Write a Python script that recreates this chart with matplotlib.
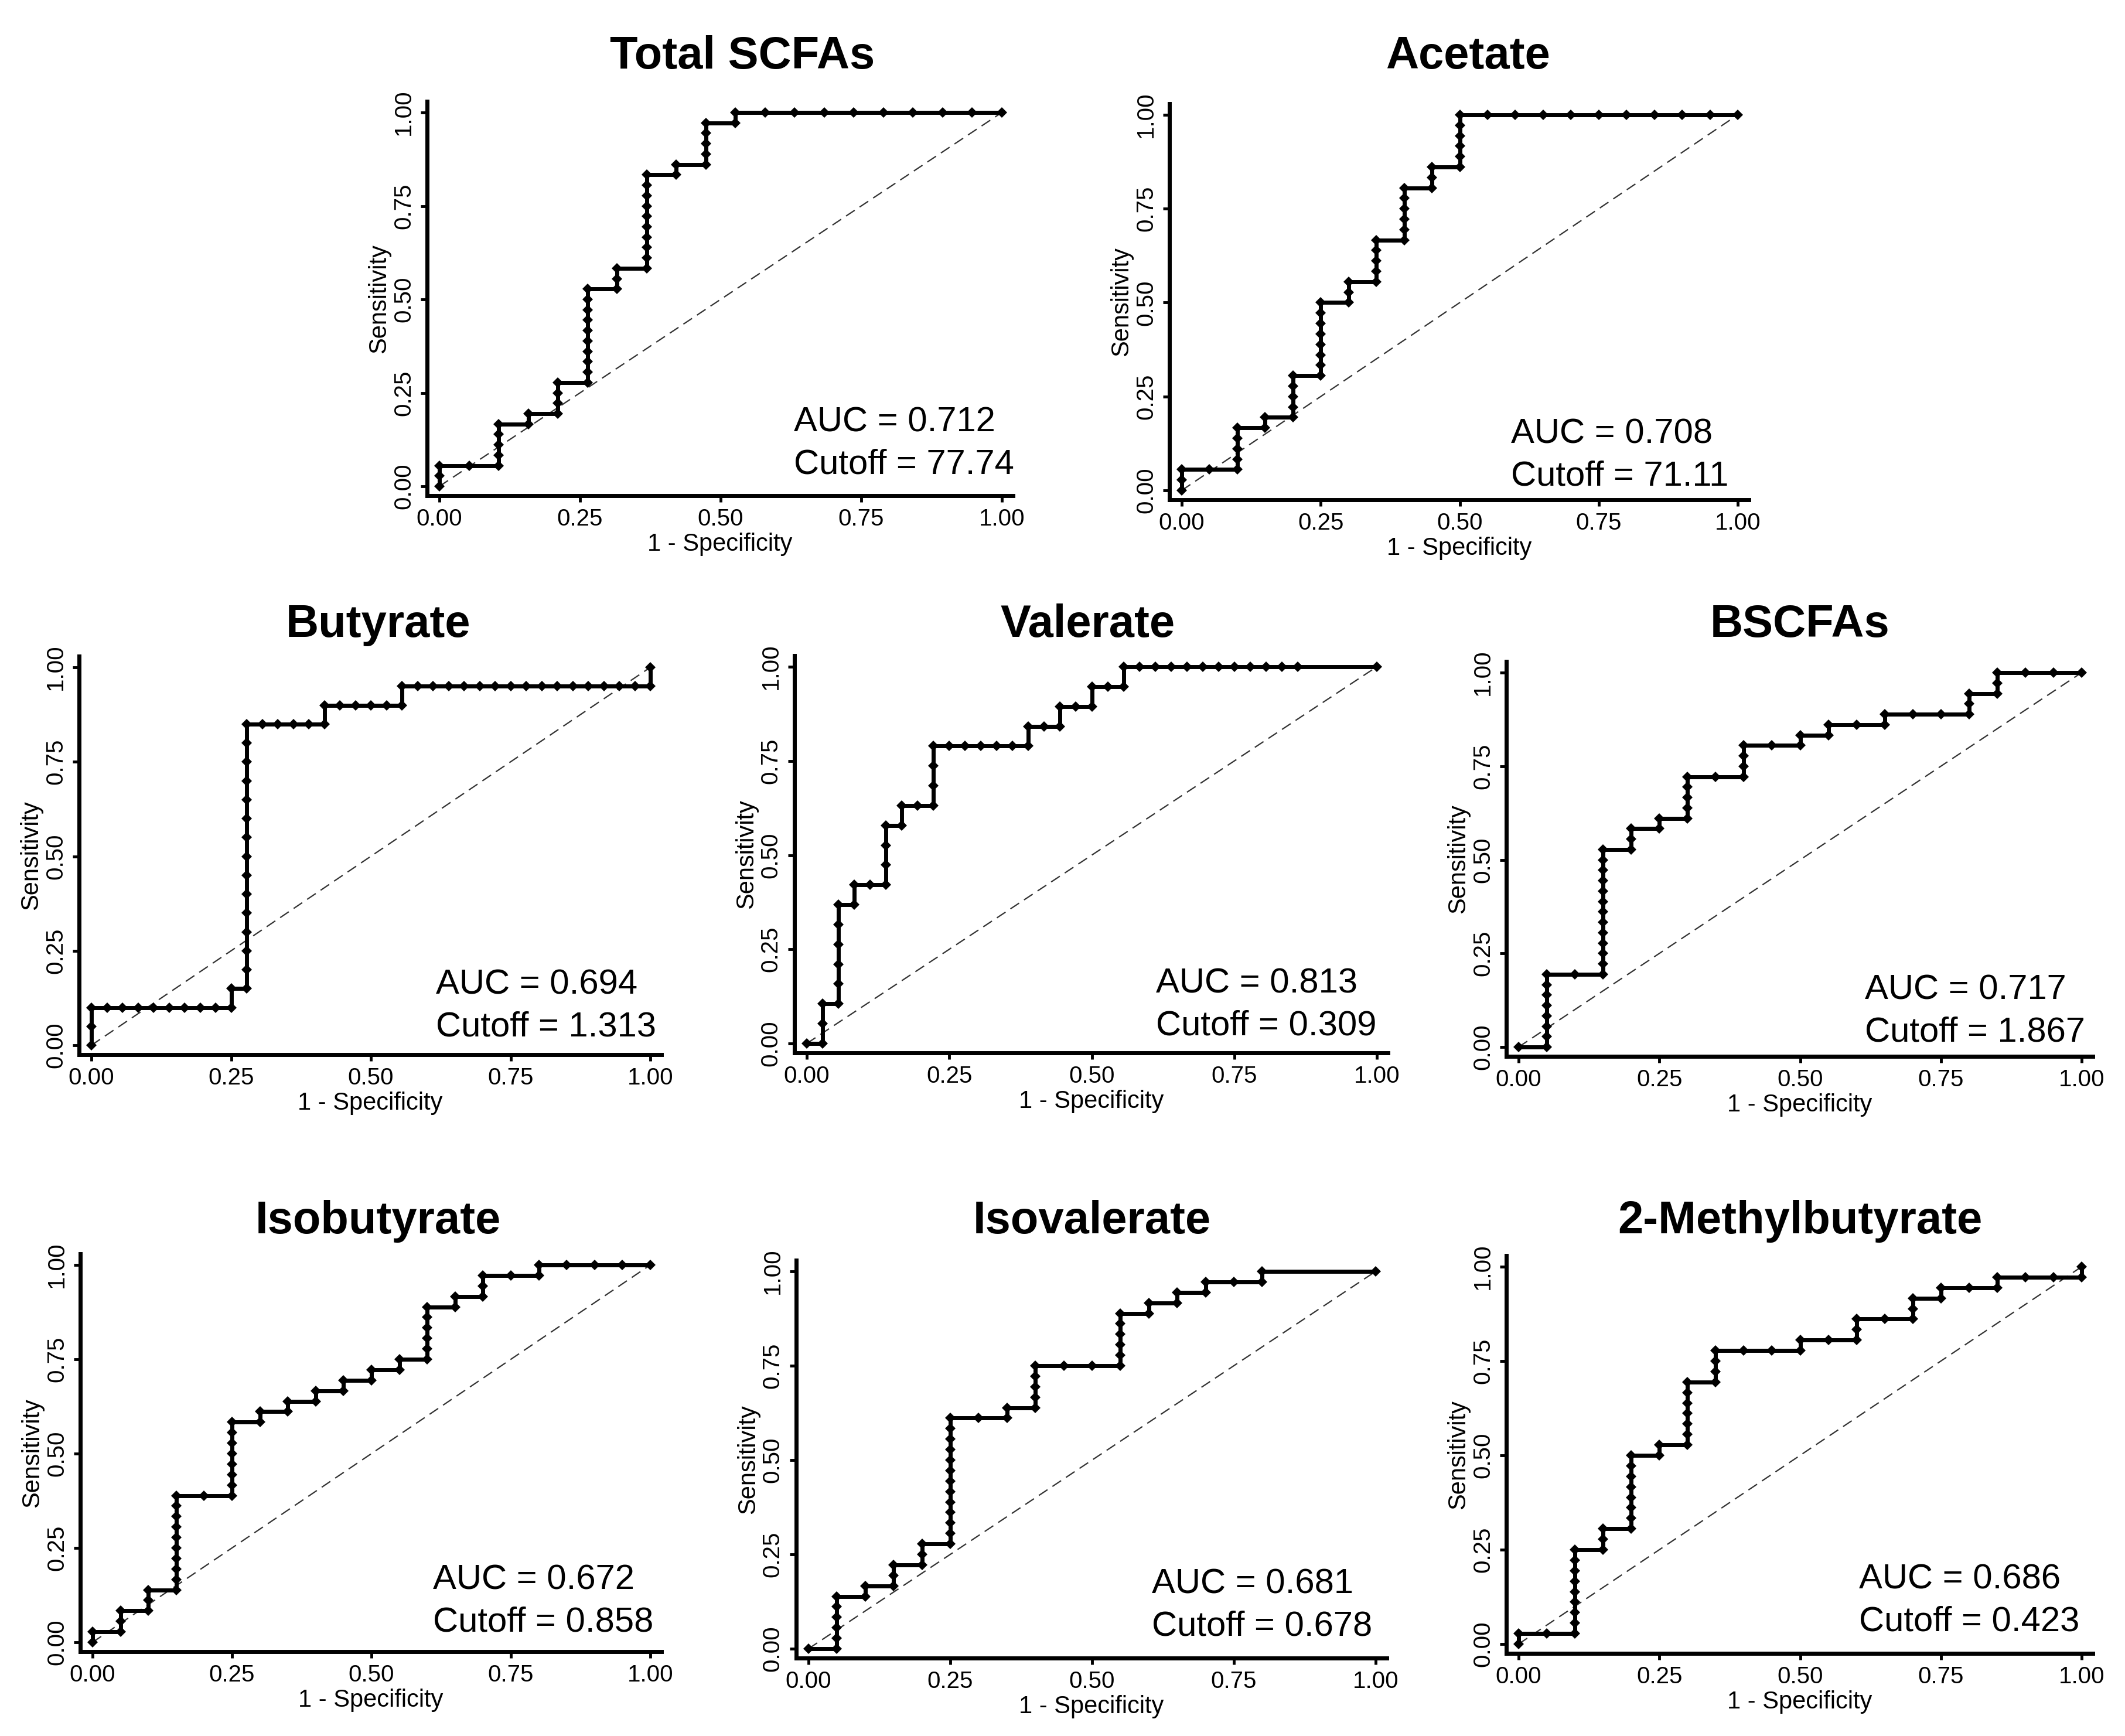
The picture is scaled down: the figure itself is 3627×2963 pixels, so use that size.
import matplotlib
matplotlib.use("Agg")
import matplotlib.pyplot as plt
import numpy as np

plt.rcParams['font.family'] = ['Liberation Sans', 'DejaVu Sans']

# ROC curves, in counts (controls along x, cases along y)
titles = ["Total SCFAs", "Acetate", "Butyrate", "Valerate", "BSCFAs",
          "Isobutyrate", "Isovalerate", "2-Methylbutyrate"]
n_ctrl = [19, 20, 36, 36, 20, 20, 20, 20]
n_case = [36, 36, 20, 19, 36, 36, 36, 36]
auc = ["0.712", "0.708", "0.694", "0.813", "0.717", "0.672", "0.681", "0.686"]
cutoff = ["77.74", "71.11", "1.313", "0.309", "1.867", "0.858", "0.678", "0.423"]

# corner points of each step curve; a third item False = no dots along that segment
total_path = [(0, 0), (0, 2), (2, 2), (2, 6), (3, 6), (3, 7), (4, 7), (4, 10), (5, 10), (5, 19),
              (6, 19), (6, 21), (7, 21), (7, 30), (8, 30), (8, 31), (9, 31), (9, 35), (10, 35),
              (10, 36), (19, 36)]
acetate_path = [(0, 0), (0, 2), (2, 2), (2, 6), (3, 6), (3, 7), (4, 7), (4, 11), (5, 11), (5, 18),
                (6, 18), (6, 20), (7, 20), (7, 24), (8, 24), (8, 29), (9, 29), (9, 31), (10, 31),
                (10, 36), (20, 36)]
butyrate_path = [(0, 0), (0, 2), (9, 2), (9, 3), (10, 3), (10, 17), (15, 17), (15, 18), (20, 18),
                 (20, 19), (36, 19), (36, 20)]
valerate_path = [(0, 0), (1, 0), (1, 2), (2, 2), (2, 7), (3, 7), (3, 8), (5, 8), (5, 11), (6, 11),
                 (6, 12), (8, 12), (8, 15), (14, 15), (14, 16), (16, 16), (16, 17), (18, 17),
                 (18, 18), (20, 18), (20, 19), (31, 19), (36, 19, False)]
bscfa_path = [(0, 0), (1, 0), (1, 7), (3, 7), (3, 19), (4, 19), (4, 21), (5, 21), (5, 22), (6, 22),
              (6, 26), (8, 26), (8, 29), (10, 29), (10, 30), (11, 30), (11, 31), (13, 31), (13, 32),
              (16, 32), (16, 34), (17, 34), (17, 36), (20, 36)]
isobut_path = [(0, 0), (0, 1), (1, 1), (1, 3), (2, 3), (2, 5), (3, 5), (3, 14), (5, 14), (5, 21),
               (6, 21), (6, 22), (7, 22), (7, 23), (8, 23), (8, 24), (9, 24), (9, 25), (10, 25),
               (10, 26), (11, 26), (11, 27), (12, 27), (12, 32), (13, 32), (13, 33), (14, 33),
               (14, 35), (16, 35), (16, 36), (20, 36)]
isoval_path = [(0, 0), (1, 0), (1, 5), (2, 5), (2, 6), (3, 6), (3, 8), (4, 8), (4, 10), (5, 10),
               (5, 22), (7, 22), (7, 23), (8, 23), (8, 27), (11, 27), (11, 32), (12, 32), (12, 33),
               (13, 33), (13, 34), (14, 34), (14, 35), (16, 35), (16, 36), (20, 36, False)]
mb_path = [(0, 0), (0, 1), (2, 1), (2, 9), (3, 9), (3, 11), (4, 11), (4, 18), (5, 18), (5, 19),
           (6, 19), (6, 25), (7, 25), (7, 28), (10, 28), (10, 29), (12, 29), (12, 31), (14, 31),
           (14, 33), (15, 33), (15, 34), (17, 34), (17, 35), (20, 35), (20, 36)]
paths = [total_path, acetate_path, butyrate_path, valerate_path, bscfa_path,
         isobut_path, isoval_path, mb_path]

# layout (pixels of the 3627x2963 figure): data box x0, x1, y0 (sens 0), y1 (sens 1)
W, H = 3627, 2963
boxes = [(750, 1710, 830, 192), (2017, 2966, 837, 196),
         (156, 1110, 1784, 1139), (1377, 2350, 1781, 1138), (2592, 3553, 1787, 1148),
         (158, 1110, 2803, 2159), (1380, 2348, 2814, 2170), (2592, 3553, 2806, 2162)]
title_xy = [(1267, 117), (2505, 117), (645, 1087), (1857, 1087), (3072, 1087),
            (645, 2105), (1864, 2105), (3072, 2105)]
auc_xy = [(0.630, 0.146), (0.592, 0.126), (0.616, 0.136), (0.613, 0.135), (0.615, 0.128),
          (0.610, 0.141), (0.605, 0.146), (0.605, 0.146)]

XL, YL = (-0.022, 1.02), (-0.025, 1.03)

fig = plt.figure(figsize=(W / 100, H / 100), dpi=100)

for i in range(len(titles)):
    x0, x1, y0, y1 = boxes[i]
    sx, sy = x1 - x0, y0 - y1
    left = x0 + XL[0] * sx
    right = x0 + XL[1] * sx
    bottom = y0 - YL[0] * sy
    top = y0 - YL[1] * sy
    ax = fig.add_axes([left / W, 1 - bottom / H, (right - left) / W, (bottom - top) / H])

    nc, nk = n_ctrl[i], n_case[i]
    cx = np.array([p[0] for p in paths[i]]) / nc
    cy = np.array([p[1] for p in paths[i]]) / nk

    # a dot at every threshold along the step
    dx, dy = [paths[i][0][0]], [paths[i][0][1]]
    for a, b in zip(paths[i][:-1], paths[i][1:]):
        dotted = len(b) < 3 or b[2]
        n = max(abs(b[0] - a[0]), abs(b[1] - a[1]))
        if dotted:
            for k in range(1, n + 1):
                dx.append(a[0] + (b[0] - a[0]) * k / n)
                dy.append(a[1] + (b[1] - a[1]) * k / n)
        else:
            dx.append(b[0])
            dy.append(b[1])
    dx = np.array(dx) / nc
    dy = np.array(dy) / nk

    ax.plot([0, 1], [0, 1], color='#333333', lw=1.6, dashes=(8, 4.5))
    ax.plot(cx, cy, color='black', lw=5, solid_joinstyle='miter')
    ax.plot(dx, dy, 'D', color='black', markersize=9, markeredgewidth=0)

    ax.set_xlim(*XL)
    ax.set_ylim(*YL)
    ticks = [0, 0.25, 0.5, 0.75, 1.0]
    ax.set_xticks(ticks)
    ax.set_yticks(ticks)
    ax.set_xticklabels(["0.00", "0.25", "0.50", "0.75", "1.00"])
    ax.set_yticklabels(["0.00", "0.25", "0.50", "0.75", "1.00"], rotation=90, va='center')
    for s in ['top', 'right']:
        ax.spines[s].set_visible(False)
    for s in ['left', 'bottom']:
        ax.spines[s].set_linewidth(5)
    ax.tick_params(length=8, width=3.5, labelsize=29, pad=7)
    ax.set_xlabel("1 - Specificity", fontsize=30, labelpad=3)
    ax.set_ylabel("Sensitivity", fontsize=30, labelpad=2)

    tx, ty = auc_xy[i]
    ax.text(tx, ty, "AUC = " + auc[i], fontsize=43, va='baseline', ha='left')
    ax.text(tx, ty - 72 / sy, "Cutoff = " + cutoff[i], fontsize=43, va='baseline', ha='left')

    fx, fy = title_xy[i]
    fig.text(fx / W, 1 - fy / H, titles[i], fontsize=56, fontweight='bold',
             ha='center', va='baseline')

fig.savefig("out.png", dpi=100, facecolor='white')
